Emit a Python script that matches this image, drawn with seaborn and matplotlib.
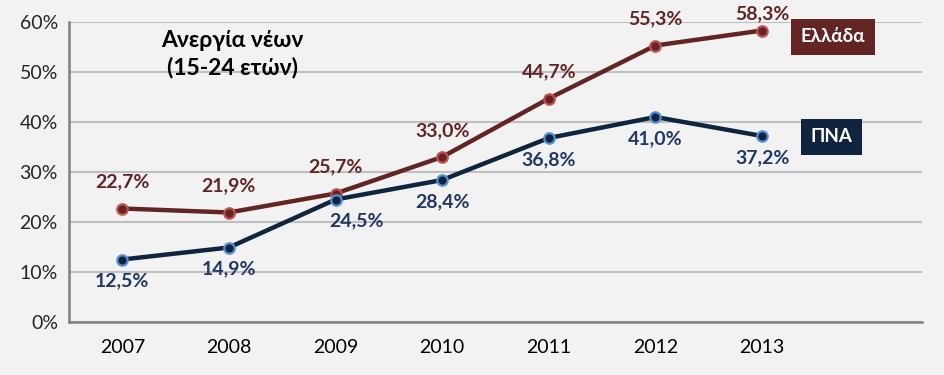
import matplotlib
matplotlib.use("Agg")
import matplotlib.pyplot as plt
import seaborn as sns
import pandas as pd
import numpy as np
from matplotlib.ticker import FixedLocator, FuncFormatter

years = ["2007", "2008", "2009", "2010", "2011", "2012", "2013"]
greece = [22.7, 21.9, 25.7, 33.0, 44.7, 55.3, 58.3]
pna = [12.5, 14.9, 24.5, 28.4, 36.8, 41.0, 37.2]
series_names = ["Ελλάδα", "ΠΝΑ"]
title_text = "Ανεργία νέων\n(15-24 ετών)"

sns.set_theme(style="white")
plt.rcParams['font.family'] = ['Lato', 'Noto Sans', 'DejaVu Sans']

bg = "#F2F2F2"
red_line = "#632523"
red_edge = "#C0504D"
blue_line = "#0F243E"
blue_edge = "#558ED5"
blue_text = "#1F3864"

fig = plt.figure(figsize=(9.45, 3.75), dpi=100, facecolor=bg)
ax = fig.add_axes([69/945, 53/375, (922-69)/945, 300/375])
ax.set_facecolor(bg)

xs = np.arange(len(years))
df = pd.DataFrame({"x": np.concatenate([xs, xs]),
                   "value": greece + pna,
                   "series": [series_names[0]]*len(years) + [series_names[1]]*len(years)})

for name, lc, ec in [(series_names[0], red_line, red_edge), (series_names[1], blue_line, blue_edge)]:
    sub = df[df.series == name]
    sns.lineplot(data=sub, x="x", y="value", ax=ax, color=lc, linewidth=3.2,
                 marker="o", markersize=7.5, markerfacecolor=lc, markeredgecolor=ec,
                 markeredgewidth=1.6, legend=False, zorder=3)

ax.set_xlim(-0.5, 7.5)
ax.set_ylim(0, 60)
ax.set_yticks(np.arange(0, 61, 10))
ax.yaxis.set_major_formatter(FuncFormatter(lambda v, p: f"{int(v)}%"))
ax.set_xticks(xs)
ax.set_xticklabels(years)
ax.xaxis.set_minor_locator(FixedLocator(np.arange(-0.5, 8.0, 1.0)))
ax.tick_params(axis="x", which="major", length=0, pad=12, labelsize=14, colors="black")
ax.tick_params(axis="x", which="minor", length=5, width=1.5, color="#808080", direction="out")
ax.tick_params(axis="y", which="major", length=5, width=1.5, color="#808080", pad=3, labelsize=14, direction="out")
ax.set_xlabel("")
ax.set_ylabel("")
ax.grid(axis="y", color="#BFBFBF", linewidth=1.5, zorder=0)
ax.set_axisbelow(True)
for s in ["top", "right"]:
    ax.spines[s].set_visible(False)
for s in ["left", "bottom"]:
    ax.spines[s].set_color("#808080")
    ax.spines[s].set_linewidth(1.8)

def fmt(v):
    return f"{v:.1f}%".replace(".", ",")

for i, v in enumerate(greece):
    dy = 12 if i == len(greece) - 1 else 19
    ax.annotate(fmt(v), (xs[i], v), xytext=(0, dy), textcoords="offset points",
                ha="center", va="center", fontsize=14, fontweight="bold", color=red_line)
for i, v in enumerate(pna):
    if i == 2:
        ax.annotate(fmt(v), (xs[i], v), xytext=(15, -15), textcoords="offset points",
                    ha="center", va="center", fontsize=14, fontweight="bold", color=blue_text)
    else:
        ax.annotate(fmt(v), (xs[i], v), xytext=(0, -15.5), textcoords="offset points",
                    ha="center", va="center", fontsize=14, fontweight="bold", color=blue_text)

ax.text(1.03, 53.6, title_text, ha="center", va="center", fontsize=16.5, fontweight="bold",
        color="black", linespacing=1.3)

ax.text(6.667, 57, series_names[0], ha="center", va="center", fontsize=13.5, fontweight="bold",
        color="white", bbox=dict(boxstyle="square,pad=0.5", facecolor=red_line, edgecolor="none"))
ax.text(6.65, 37, series_names[1], ha="center", va="center", fontsize=13.5, fontweight="bold",
        color="white", bbox=dict(boxstyle="square,pad=0.5", facecolor=blue_line, edgecolor="none"))

fig.savefig("out.png", dpi=100, facecolor=bg)
